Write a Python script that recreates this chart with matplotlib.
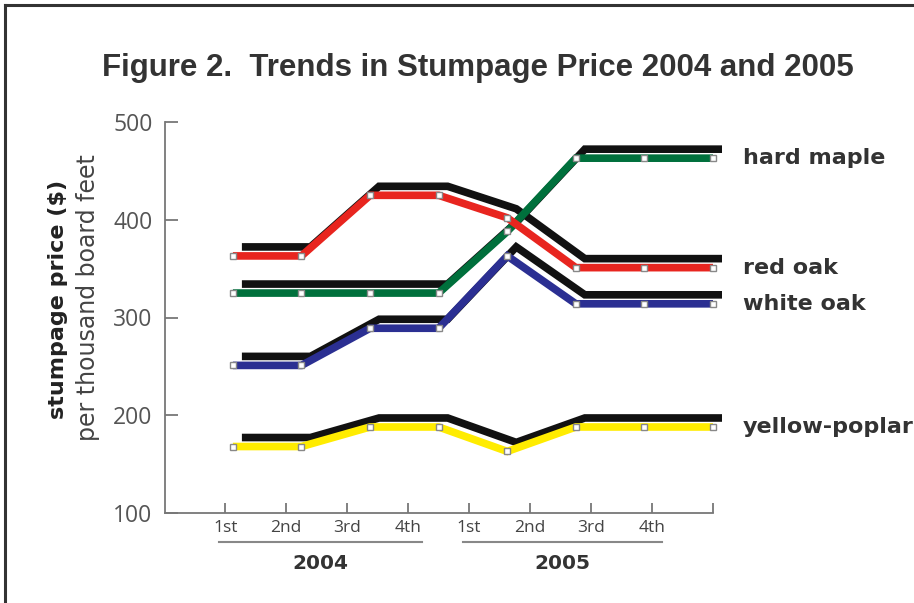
import matplotlib
matplotlib.use("Agg")
import matplotlib.pyplot as plt
import numpy as np
from matplotlib.transforms import ScaledTranslation, blended_transform_factory
from matplotlib.lines import Line2D

# ---- data ----
quarters = ["1st", "2nd", "3rd", "4th", "1st", "2nd", "3rd", "4th"]
years = ["2004", "2005"]
species = ["hard maple", "red oak", "white oak", "yellow-poplar"]
hard_maple = [325, 325, 325, 325, 388, 463, 463, 463]
red_oak = [363, 363, 425, 425, 402, 351, 351, 351]
white_oak = [251, 251, 289, 289, 363, 314, 314, 314]
yellow_poplar = [168, 168, 188, 188, 163, 188, 188, 188]
yticks = [100, 200, 300, 400, 500]

series = [hard_maple, red_oak, white_oak, yellow_poplar]
colors = ["#00703c", "#e8251f", "#2b2f92", "#ffec00"]

W, H = 914, 603
fig = plt.figure(figsize=(W / 100, H / 100), dpi=100)
fig.patch.set_facecolor("white")

# axes: y-axis at x=165px, x-axis at y=513px, top y=122px, right x=713px
ax = fig.add_axes([165 / W, (H - 513) / H, (713 - 165) / W, (513 - 122) / H])
x = np.arange(len(quarters))
ax.set_xlim(-0.99, 7.0)
ax.set_ylim(100, 500)

shadow = ax.transData + ScaledTranslation(0.09, 0.09, fig.dpi_scale_trans)
lw = 5.5
for vals in series:
    ax.plot(x, vals, color="#111111", lw=lw, solid_capstyle="butt",
            solid_joinstyle="miter", transform=shadow, clip_on=False, zorder=2)
for vals, c in zip(series, colors):
    ax.plot(x, vals, color=c, lw=lw, solid_capstyle="butt",
            solid_joinstyle="miter", clip_on=False, zorder=3,
            marker="s", markersize=5, markerfacecolor="white",
            markeredgecolor="#888888", markeredgewidth=1.0)

for name, vals in zip(species, series):
    ax.text(7.44, vals[-1], name, fontsize=16, fontweight="bold",
            family="DejaVu Sans", color="#333333", va="center", ha="left",
            clip_on=False)

# spines
for s in ["top", "right"]:
    ax.spines[s].set_visible(False)
ax.spines["left"].set_color("#777777")
ax.spines["bottom"].set_color("#777777")
ax.spines["left"].set_linewidth(1.3)
ax.spines["bottom"].set_linewidth(1.3)

ax.set_yticks(yticks)
ax.set_yticklabels([str(v) for v in yticks])
ax.tick_params(axis="y", direction="in", length=9.5, width=1.3, color="#777777",
               labelsize=16.5, labelcolor="#555555", pad=9)
for lab in ax.get_yticklabels():
    lab.set_family("Open Sans")

xt = np.linspace(-1 / 9, 7, 9)
ax.set_xticks(xt)
ax.set_xticklabels(quarters + [""])
ax.tick_params(axis="x", direction="in", length=7, width=1.3, color="#777777",
               labelsize=12.5, labelcolor="#444444", pad=5)
for lab in ax.get_xticklabels():
    lab.set_family("Open Sans")

# year groups
bt = blended_transform_factory(ax.transData, ax.transAxes)
groups = [(xt[0] - 0.09, xt[3] + 0.2), (xt[4] - 0.09, xt[7] + 0.15)]
for (a, b), yr in zip(groups, years):
    ax.add_line(Line2D([a, b], [-0.074, -0.074], transform=bt, color="#888888",
                       lw=1.5, clip_on=False))
    ax.text((a + b) / 2, -0.128, yr, transform=bt, ha="center", va="center",
            fontsize=14.5, fontweight="bold", color="#333333", clip_on=False,
            family="DejaVu Sans")

# y-axis labels
fig.text(58 / W, 1 - 299 / H, "stumpage price ($)", rotation=90, ha="center",
         va="center", fontsize=16, fontweight="bold", family="DejaVu Sans",
         color="#222222")
fig.text(88 / W, 1 - 298 / H, "per thousand board feet", rotation=90,
         ha="center", va="center", fontsize=17, family="DejaVu Sans",
         color="#444444")

# title
fig.text(478 / W, 1 - 68 / H, "Figure 2.  Trends in Stumpage Price 2004 and 2005",
         ha="center", va="center", fontsize=22.5, fontweight="bold",
         family="Liberation Sans", color="#333333")

# frame (left and top)
fig.add_artist(Line2D([5 / W, 5 / W], [0, 1 - 5 / H], transform=fig.transFigure,
                      color="#333333", lw=2.2))
fig.add_artist(Line2D([5 / W, 1], [1 - 5 / H, 1 - 5 / H], transform=fig.transFigure,
                      color="#333333", lw=2.2))

fig.savefig("out.png", dpi=100)
